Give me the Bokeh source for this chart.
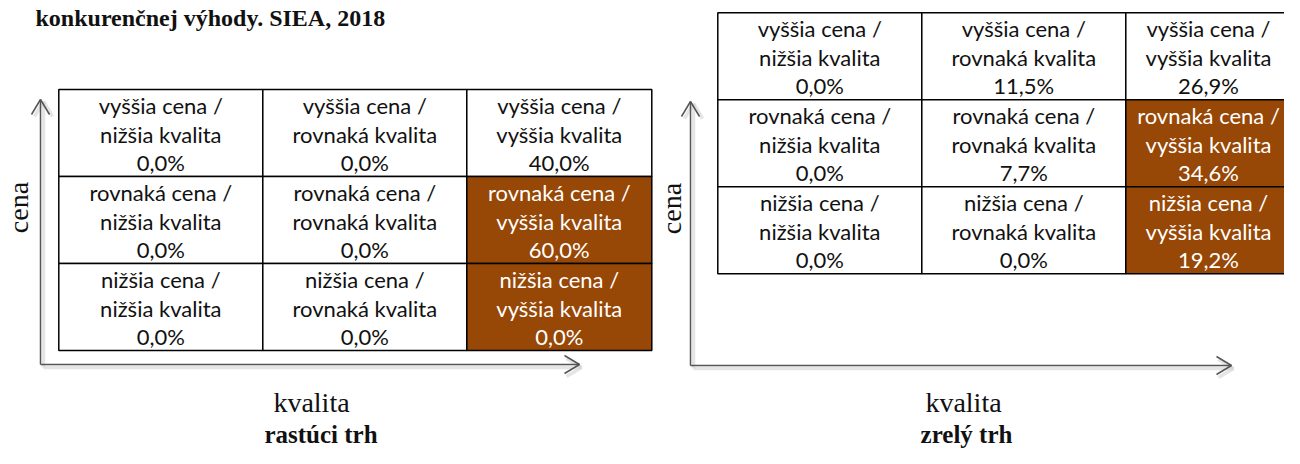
import math
from bokeh.plotting import figure
from bokeh.models import Range1d
from bokeh.embed import file_html
from bokeh.resources import INLINE
from bokeh.core.properties import value

# ---------------- data ----------------
title_text = "konkurenčnej výhody. SIEA, 2018"
price_levels = ["vyššia", "rovnaká", "nižšia"]      # rows, top to bottom
quality_levels = ["nižšia", "rovnaká", "vyššia"]    # columns, left to right
growing_share = [[0.0, 0.0, 40.0],
                 [0.0, 0.0, 60.0],
                 [0.0, 0.0, 0.0]]
mature_share = [[0.0, 11.5, 26.9],
                [0.0, 7.7, 34.6],
                [0.0, 0.0, 19.2]]
growing_highlight = [[0, 0, 0], [0, 0, 1], [0, 0, 1]]
mature_highlight = [[0, 0, 0], [0, 0, 1], [0, 0, 1]]
panel_names = ["rastúci trh", "zrelý trh"]
y_axis_label = "cena"
x_axis_label = "kvalita"

# ---------------- layout / style ----------------
W, H = 1284, 448
BROWN = "#974706"
AXIS_COL = "#555555"
SANS = value("Lato")
SERIF = value("Liberation Serif")
col_widths = [204, 204, 185]
row_h = 87.0
panels = [
    dict(share=growing_share, hl=growing_highlight, name=panel_names[0],
         gx=58.3, gy=89.0, ax=40.0, ay=364.0, vtip=99.0, htip=579.0,
         cena_x=18.0, cena_y=207.0, kval_x=311.0, name_x=320.5),
    dict(share=mature_share, hl=mature_highlight, name=panel_names[1],
         gx=717.3, gy=12.3, ax=690.0, ay=365.0, vtip=101.0, htip=1231.0,
         cena_x=671.0, cena_y=208.0, kval_x=963.0, name_x=966.0),
]

p = figure(width=W, height=H, output_backend="svg", toolbar_location=None,
           x_range=Range1d(0, W), y_range=Range1d(H, 0),
           x_axis_location=None, y_axis_location=None, min_border=0)
p.grid.visible = False
p.outline_line_color = None
p.background_fill_color = "white"
p.border_fill_color = "white"

# title (only the visible line of the document caption)
p.text(x=[35], y=[17.5], text=[title_text], text_font=SERIF, text_font_style="bold",
       text_font_size="24px", text_align="left", text_baseline="middle",
       text_color="#111111")


def fmt(v):
    return f"{v:.1f}".replace(".", ",") + "%"


for pn in panels:
    # axes with shadow
    x0, y0 = pn["ax"], pn["ay"]
    vt, ht = pn["vtip"], pn["htip"]
    sx0 = [x0 + 3, x0 + 3, x0 - 9 + 3, x0 + 9 + 3, ht - 15 + 2, ht - 15 + 2]
    sy0 = [y0 + 3, y0 + 3, vt + 15 + 2, vt + 15 + 2, y0 - 9 + 3, y0 + 9 + 3]
    sx1 = [x0 + 3, ht + 2, x0 + 3, x0 + 3, ht + 2, ht + 2]
    sy1 = [vt + 3, y0 + 3, vt + 2, vt + 2, y0 + 3, y0 + 3]
    p.segment(sx0, sy0, sx1, sy1, line_color="#d0d0d0", line_width=3.5, line_alpha=0.55)
    ex0 = [x0, x0, x0 - 9, x0 + 9, ht - 15, ht - 15]
    ey0 = [y0, y0, vt + 15, vt + 15, y0 - 9, y0 + 9]
    ex1 = [x0, ht, x0, x0, ht, ht]
    ey1 = [vt, y0, vt, vt, y0, y0]
    p.segment(ex0, ey0, ex1, ey1, line_color=AXIS_COL, line_width=1.5)

    # cells
    lefts, rights, tops, bottoms, fills = [], [], [], [], []
    tx, ty, tt, tc = [], [], [], []
    for r, price in enumerate(price_levels):
        top = pn["gy"] + r * row_h
        for c, qual in enumerate(quality_levels):
            left = pn["gx"] + sum(col_widths[:c])
            right = left + col_widths[c]
            hl = pn["hl"][r][c] == 1
            lefts.append(left); rights.append(right)
            tops.append(top); bottoms.append(top + row_h)
            fills.append(BROWN if hl else "white")
            cx = min((left + right) / 2, W - 76)   # keep text inside the canvas
            cy = top + row_h / 2 + 1
            lines = [f"{price} cena /", f"{qual} kvalita", fmt(pn["share"][r][c])]
            for k, line in enumerate(lines):
                tx.append(cx)
                ty.append(cy + (k - 1) * 28.5)
                tt.append(line)
                tc.append("white" if hl else "#111111")
    p.quad(left=lefts, right=rights, top=tops, bottom=bottoms, fill_color=fills,
           line_color="black", line_width=1.5)
    p.text(x=tx, y=ty, text=tt, text_color=tc, text_font=SANS, text_font_size="22px",
           text_align="center", text_baseline="middle")

    # axis labels
    p.text(x=[pn["cena_x"]], y=[pn["cena_y"]], text=[y_axis_label], angle=math.pi / 2,
           text_font=SERIF, text_font_size="28px", text_align="center",
           text_baseline="middle", text_color="#111111")
    p.text(x=[pn["kval_x"]], y=[402.0], text=[x_axis_label], text_font=SERIF,
           text_font_size="28px", text_align="center", text_baseline="middle",
           text_color="#111111")
    p.text(x=[pn["name_x"]], y=[434.0], text=[pn["name"]], text_font=SERIF,
           text_font_style="bold", text_font_size="25px", text_align="center",
           text_baseline="middle", text_color="#111111")

open("out.html", "w").write(file_html(p, INLINE))
